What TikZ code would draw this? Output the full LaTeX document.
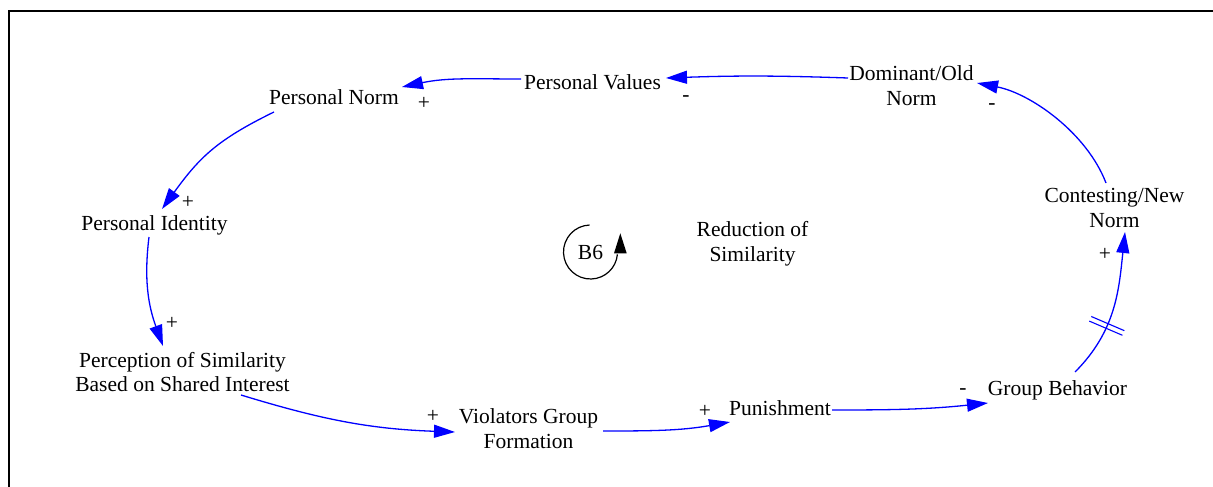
\documentclass[tikz,border=0pt]{standalone}
\usepackage{fontspec}
\setmainfont{Liberation Serif}
\usetikzlibrary{arrows.meta,decorations.markings}
\definecolor{linkblue}{RGB}{0,0,255}
\begin{document}
\begin{tikzpicture}[x=1pt,y=1pt,
  var/.style={inner sep=0pt, align=center, font=\fontsize{21.5}{24.5}\selectfont},
  pol/.style={inner sep=0pt, font=\fontsize{21.5}{24.5}\selectfont},
  link/.style={draw=linkblue, line width=1.3pt, -{Triangle[length=21pt,width=13pt]}},
  delaymark/.style={postaction={decorate,decoration={markings,
      mark=at position #1 with {\draw[-,linkblue,line width=1.1pt] (-2.5,-18) -- (-2.5,18) (2.5,-18) -- (2.5,18);}}}}
]
\useasboundingbox (0,0) rectangle (1213,-487);

% frame
\draw[line width=2pt] (9,-487) -- (9,-11) -- (1213,-11);

% variables
\node[var] (PN)  at (334,-97.6)    {Personal Norm};
\node[var] (PV)  at (592.5,-82.6)  {Personal Values};
\node[var] (DON) at (911.5,-85.5)  {Dominant/Old\\Norm};
\node[var] (CNN) at (1114.5,-208)  {Contesting/New\\Norm};
\node[var] (GB)  at (1057.5,-390)  {Group Behavior};
\node[var] (PUN) at (780,-408.6)   {Punishment};
\node[var] (VGF) at (528.5,-428.7) {Violators Group\\Formation};
\node[var] (PSB) at (182.5,-372)   {Perception of Similarity\\Based on Shared Interest};
\node[var] (PI)  at (154.5,-225)   {Personal Identity};
\node[var] (RS)  at (752.5,-243.5) {Reduction of\\Similarity};
\node[var] (B6)  at (590.5,-252)   {B6};

% causal links
\draw[link] ([shift={(-71.5,3.6)}]PV.center) to[out=180,in=12] ([shift={(68,10.6)}]PN.center);
\draw[link] ([shift={(-63.5,7.5)}]DON.center) to[bend right=2] ([shift={(73.5,4.6)}]PV.center);
\draw[link] ([shift={(-8.5,25)}]CNN.center) to[out=111,in=349,looseness=0.85] ([shift={(65.5,2.5)}]DON.center);
\draw[link,delaymark=0.37] ([shift={(17.5,18)}]GB.center) to[out=45,in=264] ([shift={(10.5,-24)}]CNN.center);
\draw[link] ([shift={(52,-1.4)}]PUN.center) to[out=0,in=186] ([shift={(-69.5,-13)}]GB.center);
\draw[link] ([shift={(74.5,-2.3)}]VGF.center) to[out=0,in=190] ([shift={(-50,-13.4)}]PUN.center);
\draw[link] ([shift={(58.5,-23)}]PSB.center) to[out=-17,in=178] ([shift={(-73.5,-3.3)}]VGF.center);
\draw[link] ([shift={(-5.5,-12)}]PI.center) to[out=263,in=110] ([shift={(-19.5,26)}]PSB.center);
\draw[link] ([shift={(-60,-14.4)}]PN.center) to[out=206,in=54,looseness=1.1] ([shift={(7.5,16)}]PI.center);

% polarities
\node[pol] (s1) at (424,-103)  {+};
\node[pol] (s2) at (686,-99)   {-};
\node[pol] (s3) at (992,-107)  {-};
\node[pol] (s4) at (1105,-254) {+};
\node[pol] (s5) at (963,-392)  {-};
\node[pol] (s6) at (705,-411)  {+};
\node[pol] (s7) at (433,-416)  {+};
\node[pol] (s8) at (172,-323)  {+};
\node[pol] (s9) at (188,-202)  {+};

% loop symbol
\draw[line width=1.2pt] ([shift={(92:27)}]B6.center) arc[start angle=92, end angle=355, radius=27];
\fill ([shift={(29.8,18.7)}]B6.center) -- ([shift={(23.5,-1.3)}]B6.center) -- ([shift={(36.2,-1.3)}]B6.center) -- cycle;
\end{tikzpicture}
\end{document}
